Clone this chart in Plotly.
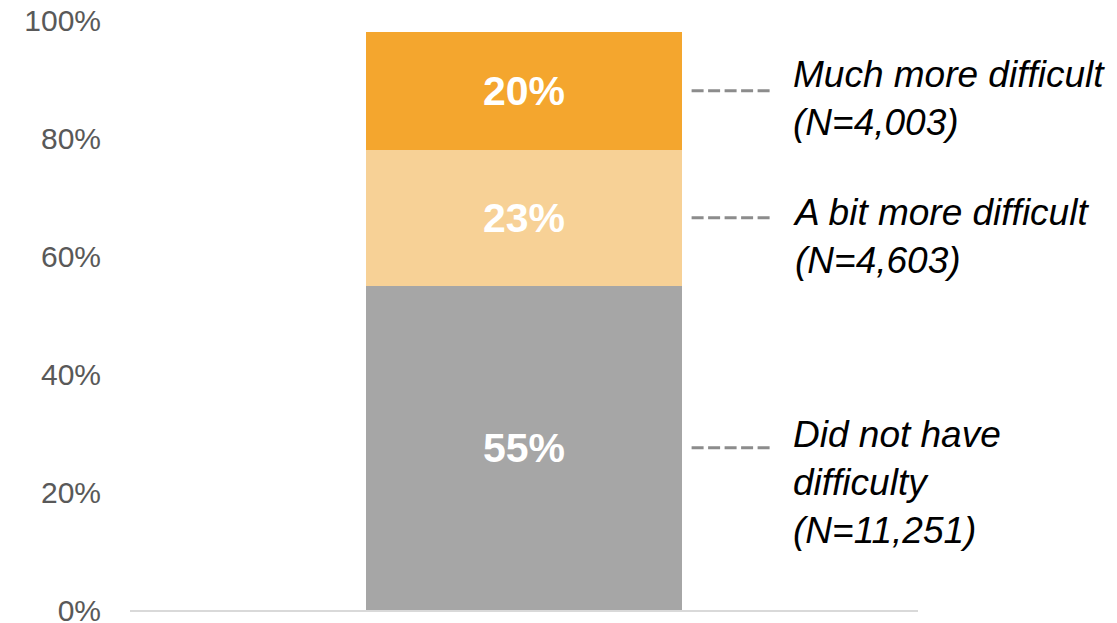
import plotly.graph_objects as go

# Survey shares, stacked bottom to top
categories = ["Did not have difficulty", "A bit more difficult", "Much more difficult"]
sample_sizes = ["11,251", "4,603", "4,003"]
shares = [55, 23, 20]
colors = ["#A6A6A6", "#F7D196", "#F4A62E"]

tick_vals = [0, 20, 40, 60, 80, 100]
tick_text = ["0%", "20%", "40%", "60%", "80%", "100%"]

# label line breaks and vertical nudges (px) for the right-hand annotations
label_texts = [
    "Did not have<br>difficulty<br>(N=" + sample_sizes[0] + ")",
    "A bit more difficult<br>(N=" + sample_sizes[1] + ")",
    "Much more difficult<br>(N=" + sample_sizes[2] + ")",
]
label_yshift = [-35, -19, -8]

BAR_WIDTH = 0.4
FONT = "Liberation Sans, Arial, sans-serif"

fig = go.Figure()
for name, val, col in zip(categories, shares, colors):
    fig.add_trace(go.Bar(
        x=[0], y=[val], name=name, width=BAR_WIDTH,
        marker=dict(color=col, line=dict(width=0)),
        text=[f"{val}%"], textposition="inside", insidetextanchor="middle",
        textfont=dict(family=FONT, size=41, color="white", weight="bold"),
        constraintext="none", hoverinfo="skip",
    ))

# dashed leaders and labels at each segment's midpoint
base = 0
for val, txt, ys in zip(shares, label_texts, label_yshift):
    mid = base + val / 2
    base += val
    fig.add_shape(
        type="line", xref="x", yref="y",
        xsizemode="pixel", xanchor=BAR_WIDTH / 2, x0=10, x1=90,
        y0=mid, y1=mid,
        line=dict(color="#8C8C8C", width=3, dash="12px,4.5px"),
    )
    fig.add_annotation(
        x=BAR_WIDTH / 2, y=mid, xref="x", yref="y",
        xanchor="left", yanchor="middle", align="left",
        xshift=109, yshift=ys, showarrow=False,
        text=f"<i>{txt}</i>",
        font=dict(family=FONT, size=37, color="#000000"),
    )

fig.update_layout(
    barmode="stack",
    width=1117, height=623,
    margin=dict(l=130, r=199, t=20, b=13),
    paper_bgcolor="white", plot_bgcolor="white",
    showlegend=False,
    bargap=0,
)
fig.update_xaxes(
    range=[-0.5, 0.5], showticklabels=False, showgrid=False, zeroline=False,
    showline=True, linecolor="#D9D9D9", linewidth=2, ticks="",
    automargin=False,
)
fig.update_yaxes(
    range=[0, 100], tickvals=tick_vals, ticktext=tick_text,
    showgrid=False, zeroline=False, showline=False, ticks="",
    tickfont=dict(family=FONT, size=30, color="#595959"),
    ticklabelstandoff=28, ticklabeloverflow="allow", automargin=False,
)

fig.write_html("out.html")
